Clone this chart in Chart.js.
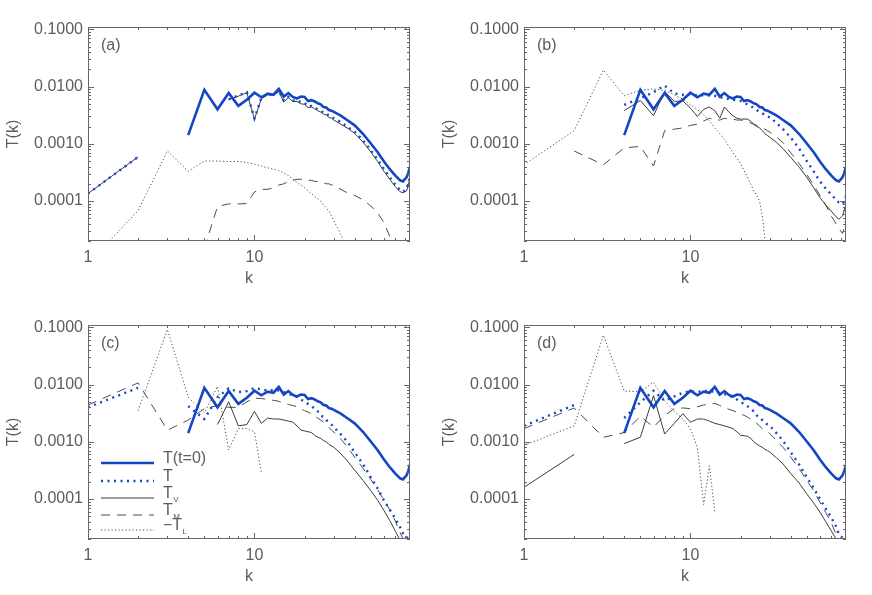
<!DOCTYPE html>
<html>
<head>
<meta charset="utf-8">
<script src="https://cdn.jsdelivr.net/npm/chart.js@4.4.1/dist/chart.umd.min.js"></script>
<style>
    body { margin: 0; background: #fff; }
    #wrap { position: relative; width: 872px; height: 595px; }
    canvas { position: absolute; }
</style>
</head>
<body>
<div id="wrap">
    <canvas id="pa" width="436" height="298" style="left:0;top:0"></canvas>
    <canvas id="pb" width="436" height="298" style="left:436px;top:0"></canvas>
    <canvas id="pc" width="436" height="298" style="left:0;top:298px"></canvas>
    <canvas id="pd" width="436" height="298" style="left:436px;top:298px"></canvas>
</div>
<script>
// wavenumbers k where the spectra are sampled
const K = [1, 2, 3, 4, 5, 6, 7, 8, 9, 10,
    11, 12, 13, 14, 15, 16, 17, 18, 19, 20,
    21, 22, 23, 24, 25, 26, 27, 28, 29, 30,
    33, 36, 40, 45, 50, 55, 60, 65, 70, 75, 78, 82, 84, 86];

// tick labels
const X_TICKS = [1, 10];
const Y_TICKS = [0.1, 0.01, 0.001, 0.0001];
const PANEL_TAGS = ['(a)', '(b)', '(c)', '(d)'];
const LEGEND_NAMES = [['T(t=0)', ''], ['T', ''], ['T', 'V'], ['T', 'M'], ['\u2212T', 'L']];

// T(t=0), same in every panel
const T0 = [null, null, null, 0.00142, 0.0088, 0.0040, 0.0077, 0.0046, 0.0059, 0.0078,
    0.0065, 0.0075, 0.0072, 0.0091, 0.0067, 0.0077, 0.0066, 0.0062, 0.0067, 0.0066,
    0.0056, 0.0058, 0.0055, 0.0051, 0.0049, 0.0044, 0.0043, 0.0039, 0.0038, 0.0036,
    0.0031, 0.0026, 0.0021, 0.00148, 0.00101, 0.00071, 0.00049, 0.00036, 0.00028, 0.00023, 0.00022, 0.00026, 0.00031, 0.00040];

// panel (a)
const A_T = [0.000135, 0.00059, null, null, null, null, 0.0060, 0.0070, 0.0080, 0.0028,
    0.0063, 0.0074, 0.0072, 0.0085, 0.0057, 0.0066, 0.0057, 0.0058, 0.0053, 0.0052,
    0.0045, 0.0046, 0.0043, 0.0040, 0.0038, 0.0035, 0.0034, 0.0031, 0.0030, 0.0028,
    0.0024, 0.0020, 0.00163, 0.00114, 0.00077, 0.00053, 0.00036, 0.00026, 0.000195, 0.000155, 0.000145, 0.00016, 0.0002, 0.00027];
const A_TV = [0.000135, 0.00059, null, null, null, null, 0.0059, 0.0068, 0.0078, 0.0027,
    0.0061, 0.0072, 0.0070, 0.0082, 0.0054, 0.0064, 0.0055, 0.0055, 0.0050, 0.0049,
    0.0043, 0.0044, 0.0041, 0.0038, 0.0036, 0.0033, 0.0032, 0.0029, 0.0028, 0.0026,
    0.0022, 0.0019, 0.00152, 0.00106, 0.00072, 0.00049, 0.00033, 0.00024, 0.00018, 0.000145, 0.00014, 0.00015, 0.00019, 0.00026];
const A_TM = [null, null, null, null, 0.000015, 0.00008, 0.000089, 0.000089, 0.00009, 0.000144,
    0.00016, 0.00016, 0.00017, 0.00019, 0.0002, 0.00022, 0.00023, 0.00024, 0.00024, 0.00024,
    0.00023, 0.00023, 0.00022, 0.00022, 0.00022, 0.00021, 0.0002, 0.0002, 0.00019, 0.00019,
    0.00016, 0.00014, 0.000125, 0.000105, 0.000082, 0.000062, 0.000042, 0.000024, 0.000014];
const A_TL = [0.000008, 0.000068, 0.00075, 0.00033, 0.0005, 0.0005, 0.00049, 0.00049, 0.00047, 0.00044,
    0.00041, 0.00038, 0.00036, 0.00034, 0.00031, 0.00028, 0.00024, 0.00021, 0.00019, 0.00017,
    0.00015, 0.000135, 0.00012, 0.00011, 0.0001, 0.000085, 0.000075, 0.000067, 0.000055, 0.000045,
    0.000026, 0.000015];

// panel (b)
const B_T = [null, null, null, 0.0048, 0.0062, 0.0080, 0.0104, 0.0076, 0.0072, 0.0074,
    0.0070, 0.0071, 0.0070, 0.0069, 0.0066, 0.0062, 0.0061, 0.0059, 0.0057, 0.0056,
    0.0052, 0.0049, 0.0046, 0.0042, 0.0039, 0.0036, 0.0034, 0.0032, 0.0030, 0.0029,
    0.0023, 0.0018, 0.00129, 0.00082, 0.0005, 0.00033, 0.00022, 0.000165, 0.000131, 0.000105, 0.000094, 0.000088, 0.0001, 0.000123];
const B_TV = [null, null, null, 0.0038, 0.0057, 0.0031, 0.0082, 0.0055, 0.0056, 0.0042,
    0.0030, 0.0040, 0.0044, 0.0038, 0.0028, 0.0044, 0.0036, 0.0031, 0.0028, 0.0027,
    0.0027, 0.0027, 0.0025, 0.0022, 0.0020, 0.0019, 0.0017, 0.0015, 0.0014, 0.0013,
    0.00105, 0.00082, 0.00058, 0.00039, 0.00026, 0.00017, 0.000115, 0.000085, 0.000067, 0.000053, 0.000048, 0.000055, 0.00007, 0.00009];
const B_TM = [null, 0.00075, 0.00043, 0.00085, 0.0009, 0.00041, 0.0017, 0.0018, 0.0019, 0.0021,
    0.0022, 0.0025, 0.0028, 0.0026, 0.0026, 0.0028, 0.0027, 0.0027, 0.0026, 0.0026,
    0.0025, 0.0024, 0.0023, 0.0022, 0.0021, 0.0020, 0.0019, 0.0018, 0.0017, 0.0016,
    0.0013, 0.00105, 0.0007, 0.00045, 0.00029, 0.00019, 0.000125, 0.000085, 0.000055, 0.00004, 0.000033, 0.000027, 0.000035, 0.00005];
const B_TL = [0.00043, 0.0017, 0.0195, 0.0069, 0.0087, 0.0091, 0.0085, 0.0072, 0.0060, 0.0048,
    0.0040, 0.0032, 0.0025, 0.0019, 0.0015, 0.0012, 0.0009, 0.0007, 0.00056, 0.00045,
    0.00034, 0.00026, 0.0002, 0.00015, 0.000125, 0.0001, 0.000055, 0.000022, 0.000008];

// panel (c)
const C_T = [0.0040, 0.0088, null, 0.0042, 0.0025, 0.0060, 0.0086, 0.0074, 0.0077, 0.0087,
    0.0082, 0.0079, 0.0080, 0.0079, 0.0074, 0.0069, 0.0065, 0.0061, 0.0055, 0.0050,
    0.0046, 0.0042, 0.0038, 0.0034, 0.0029, 0.0027, 0.0024, 0.0022, 0.0020, 0.0018,
    0.00135, 0.00102, 0.00066, 0.0004, 0.00024, 0.000152, 0.000094, 0.000065, 0.000046, 0.000032, 0.000025, 0.000021, 0.000022, 0.000024];
const C_TV = [null, null, null, null, null, 0.0020, 0.0050, 0.0019, 0.0020, 0.0034,
    0.0021, 0.0026, 0.0025, 0.0025, 0.0024, 0.0023, 0.0022, 0.0019, 0.0016, 0.00155,
    0.0015, 0.00145, 0.0013, 0.0012, 0.00115, 0.00105, 0.001, 0.0009, 0.00085, 0.0008,
    0.00062, 0.00047, 0.00032, 0.00021, 0.00014, 0.000095, 0.000063, 0.000042, 0.000028, 0.000019, 0.000015];
const C_TM = [0.0044, 0.0107, 0.0016, 0.0024, 0.0038, 0.0043, 0.0040, 0.0040, 0.0050, 0.0058,
    0.0057, 0.0055, 0.0053, 0.0051, 0.0047, 0.0045, 0.0043, 0.0041, 0.0038, 0.0035,
    0.0033, 0.0031, 0.0028, 0.0026, 0.0024, 0.0022, 0.0020, 0.0018, 0.0016, 0.00148,
    0.00112, 0.00083, 0.00054, 0.00034, 0.00022, 0.000145, 0.000095, 0.000065, 0.000042, 0.000026, 0.00002, 0.000014];
const C_TL = [null, 0.0035, 0.092, 0.0060, 0.0032, 0.0093, 0.00072, 0.0017, 0.0017, 0.0015,
    0.00029];

// panel (d)
const D_T = [0.0019, 0.0044, null, 0.0026, 0.0049, 0.0078, 0.0052, 0.0062, 0.0072, 0.0077,
    0.0074, 0.0078, 0.0076, 0.0075, 0.0071, 0.0068, 0.0064, 0.0060, 0.0055, 0.0050,
    0.0046, 0.0042, 0.0038, 0.0034, 0.0029, 0.0027, 0.0024, 0.0022, 0.0020, 0.0019,
    0.0014, 0.00104, 0.00066, 0.0004, 0.00024, 0.000155, 0.0001, 0.000068, 0.000048, 0.000033, 0.000024, 0.000021, 0.000022, 0.000024];
const D_TV = [0.00016, 0.0006, null, 0.00093, 0.0012, 0.0064, 0.00137, 0.0021, 0.0031, 0.0022,
    0.0025, 0.0025, 0.0023, 0.0021, 0.0020, 0.0019, 0.0018, 0.0017, 0.0015, 0.0013,
    0.00128, 0.00125, 0.00115, 0.001, 0.00092, 0.00085, 0.0008, 0.00074, 0.0007, 0.00066,
    0.00052, 0.00041, 0.00028, 0.00019, 0.000123, 0.000085, 0.000059, 0.00004, 0.000028, 0.00002, 0.000015];
const D_TM = [0.0017, 0.0039, 0.0012, 0.00145, 0.0028, 0.0018, 0.0029, 0.0038, 0.0039, 0.0038,
    0.0041, 0.0044, 0.0045, 0.0047, 0.0043, 0.0040, 0.0037, 0.0035, 0.0033, 0.0031,
    0.0029, 0.0027, 0.0025, 0.0023, 0.0021, 0.0019, 0.0017, 0.0016, 0.0015, 0.00138,
    0.00105, 0.0008, 0.00054, 0.00034, 0.00021, 0.00014, 0.000088, 0.000058, 0.000039, 0.000024, 0.000018];
const D_TL = [0.00086, 0.0019, 0.073, 0.0077, 0.0075, 0.011, 0.0052, 0.0034, 0.0025, 0.0017,
    0.0008, 0.00008, 0.00038, 0.00006];

// look
const TEXT = '#5c5c5c';
const FONT = { family: '"Liberation Sans", Arial, sans-serif', size: 16 };
const BLUE = '#1446c4';
const STYLE = {
    t0: { borderColor: BLUE, borderWidth: 2.6 },
    t: { borderColor: BLUE, borderWidth: 2.4, borderDash: [2, 4.5] },
    tv: { borderColor: '#3c3c3c', borderWidth: 1 },
    tm: { borderColor: '#4a4a4a', borderWidth: 1, borderDash: [9, 7] },
    tl: { borderColor: '#4a4a4a', borderWidth: 1, borderDash: [1.2, 2.3] }
};
const LEGEND_STYLES = [STYLE.t0, STYLE.t, STYLE.tv, STYLE.tm, STYLE.tl];
const LEGEND_ROWS = [138, 156, 173, 190, 205];

function points(vals) {
    return K.map((k, i) => ({ x: k, y: vals[i] ?? null }));
}

function dataset(label, vals, style) {
    return Object.assign({
        label: label,
        data: points(vals),
        pointRadius: 0,
        tension: 0,
        spanGaps: false,
        fill: false
    }, style);
}

// frame with inward major/minor ticks on all four sides
const frameTicks = {
    id: 'frameTicks',
    afterDraw(chart) {
        const { ctx, chartArea: a, scales: { x, y } } = chart;
        ctx.save();
        ctx.strokeStyle = '#666';
        ctx.lineWidth = 1;
        ctx.strokeRect(a.left + 0.5, a.top + 0.5, a.right - a.left - 1, a.bottom - a.top - 1);
        ctx.beginPath();
        for (let d = 1; d <= 10; d *= 10) {
            for (let m = 1; m <= 9; m++) {
                const v = m * d;
                if (v > x.max) continue;
                const len = m === 1 ? 6 : 3;
                const px = Math.round(x.getPixelForValue(v)) + 0.5;
                ctx.moveTo(px, a.bottom); ctx.lineTo(px, a.bottom - len);
                ctx.moveTo(px, a.top); ctx.lineTo(px, a.top + len);
            }
        }
        for (let d = 1e-5; d < 1; d *= 10) {
            for (let m = 1; m <= 9; m++) {
                const v = m * d;
                if (v < y.min || v > y.max) continue;
                const len = m === 1 ? 6 : 3;
                const py = Math.round(y.getPixelForValue(v)) + 0.5;
                ctx.moveTo(a.left, py); ctx.lineTo(a.left + len, py);
                ctx.moveTo(a.right, py); ctx.lineTo(a.right - len, py);
            }
        }
        ctx.stroke();
        ctx.restore();
    }
};

function tagPlugin(tag) {
    return {
        id: 'panelTag',
        afterDraw(chart) {
            const { ctx, chartArea: a } = chart;
            ctx.save();
            ctx.fillStyle = TEXT;
            ctx.font = FONT.size + 'px ' + FONT.family;
            ctx.textBaseline = 'middle';
            ctx.textAlign = 'left';
            ctx.fillText(tag, a.left + 13, a.top + 19);
            ctx.restore();
        }
    };
}

const legendBox = {
    id: 'legendBox',
    afterDraw(chart) {
        const { ctx, chartArea: a } = chart;
        ctx.save();
        LEGEND_NAMES.forEach((name, i) => {
            const st = LEGEND_STYLES[i];
            const yy = a.top + LEGEND_ROWS[i];
            ctx.strokeStyle = st.borderColor;
            ctx.lineWidth = st.borderWidth;
            ctx.setLineDash(st.borderDash || []);
            ctx.beginPath();
            ctx.moveTo(a.left + 13, yy);
            ctx.lineTo(a.left + 66, yy);
            ctx.stroke();
            ctx.setLineDash([]);

            ctx.fillStyle = TEXT;
            ctx.textAlign = 'left';
            ctx.textBaseline = 'middle';
            ctx.font = FONT.size + 'px ' + FONT.family;
            ctx.fillText(name[0], a.left + 75, yy - 4);
            if (name[1]) {
                const w = ctx.measureText(name[0]).width;
                ctx.font = '8px ' + FONT.family;
                ctx.fillText(name[1], a.left + 75 + w + 0.5, yy + 2);
            }
        });
        ctx.restore();
    }
};

function makePanel(id, tag, t, tv, tm, tl, withLegend) {
    const plugins = [frameTicks, tagPlugin(tag)];
    if (withLegend) plugins.push(legendBox);
    return new Chart(document.getElementById(id), {
        type: 'line',
        data: {
            datasets: [
                dataset('T', t, STYLE.t),
                dataset('T(t=0)', T0, STYLE.t0),
                dataset('Tv', tv, STYLE.tv),
                dataset('TM', tm, STYLE.tm),
                dataset('-TL', tl, STYLE.tl)
            ]
        },
        options: {
            responsive: false,
            animation: false,
            devicePixelRatio: 1,
            layout: { padding: { top: 27, right: 26, left: 0, bottom: 0 } },
            plugins: { legend: { display: false }, tooltip: { enabled: false } },
            scales: {
                x: {
                    type: 'logarithmic',
                    min: 1,
                    max: 86,
                    afterBuildTicks: s => { s.ticks = X_TICKS.map(v => ({ value: v })); },
                    afterFit: s => { s.height = 57; },
                    grid: { display: false, drawTicks: false },
                    border: { display: false },
                    ticks: { padding: 7, color: TEXT, font: FONT, autoSkip: false, maxRotation: 0,
                        callback: v => String(v) },
                    title: { display: true, text: 'k', color: TEXT, font: FONT, padding: { top: 0, bottom: 10 } }
                },
                y: {
                    type: 'logarithmic',
                    min: 2e-5,
                    max: 0.11,
                    afterBuildTicks: s => { s.ticks = Y_TICKS.map(v => ({ value: v })); },
                    afterFit: s => { s.width = 88; },
                    grid: { display: false, drawTicks: false },
                    border: { display: false },
                    ticks: { padding: 5, color: TEXT, font: FONT, autoSkip: false,
                        callback: v => Number(v).toFixed(4) },
                    title: { display: true, text: 'T(k)', color: TEXT, font: FONT, padding: { top: 4, bottom: 0 } }
                }
            }
        },
        plugins: plugins
    });
}

makePanel('pa', PANEL_TAGS[0], A_T, A_TV, A_TM, A_TL, false);
makePanel('pb', PANEL_TAGS[1], B_T, B_TV, B_TM, B_TL, false);
makePanel('pc', PANEL_TAGS[2], C_T, C_TV, C_TM, C_TL, true);
makePanel('pd', PANEL_TAGS[3], D_T, D_TV, D_TM, D_TL, false);
</script>
</body>
</html>
